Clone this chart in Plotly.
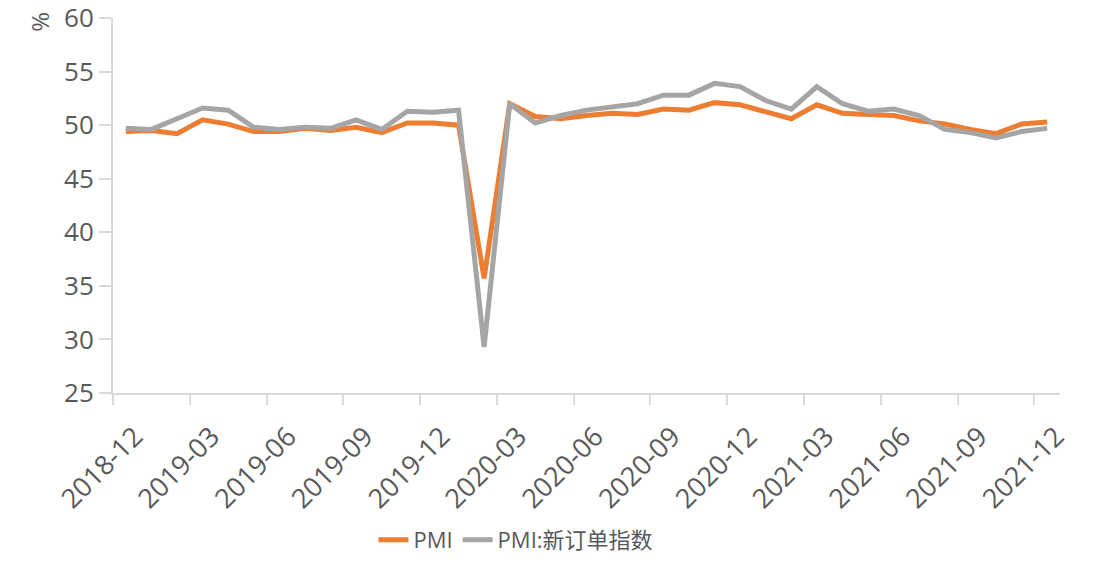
import plotly.graph_objects as go

months = ["2018-12",
          "2019-01", "2019-02", "2019-03", "2019-04", "2019-05", "2019-06",
          "2019-07", "2019-08", "2019-09", "2019-10", "2019-11", "2019-12",
          "2020-01", "2020-02", "2020-03", "2020-04", "2020-05", "2020-06",
          "2020-07", "2020-08", "2020-09", "2020-10", "2020-11", "2020-12",
          "2021-01", "2021-02", "2021-03", "2021-04", "2021-05", "2021-06",
          "2021-07", "2021-08", "2021-09", "2021-10", "2021-11", "2021-12"]

pmi = [49.4,
       49.5, 49.2, 50.5, 50.1, 49.4, 49.4, 49.7, 49.5, 49.8, 49.3, 50.2, 50.2,
       50.0, 35.7, 52.0, 50.8, 50.6, 50.9, 51.1, 51.0, 51.5, 51.4, 52.1, 51.9,
       51.3, 50.6, 51.9, 51.1, 51.0, 50.9, 50.4, 50.1, 49.6, 49.2, 50.1, 50.3]

new_orders = [49.7,
              49.6, 50.6, 51.6, 51.4, 49.8, 49.6, 49.8, 49.7, 50.5, 49.6, 51.3, 51.2,
              51.4, 29.3, 52.0, 50.2, 50.9, 51.4, 51.7, 52.0, 52.8, 52.8, 53.9, 53.6,
              52.3, 51.5, 53.6, 52.0, 51.3, 51.5, 50.9, 49.6, 49.3, 48.8, 49.4, 49.7]

series_names = ["PMI", "PMI:新订单指数"]
y_unit = "%"

idx = list(range(len(months)))
label_idx = idx[::3]
label_text = [months[i] for i in label_idx]
boundary_ticks = [i - 0.5 for i in label_idx]

font_family = "Open Sans, Noto Sans CJK SC, sans-serif"
axis_col = "#d9d9d9"
text_col = "#595959"

fig = go.Figure()
fig.add_trace(go.Scatter(x=idx, y=pmi, mode="lines", name=series_names[0],
                         line=dict(color="#ED7D31", width=5)))
fig.add_trace(go.Scatter(x=idx, y=new_orders, mode="lines", name=series_names[1],
                         line=dict(color="#A5A5A5", width=5)))

fig.update_layout(
    width=1097, height=579,
    margin=dict(l=113, r=37, t=18, b=186, autoexpand=False),
    paper_bgcolor="white", plot_bgcolor="white",
    font=dict(family=font_family, color=text_col, size=22),
    showlegend=True,
    legend=dict(orientation="h", x=0.4255, xanchor="center", y=-0.392, yanchor="middle",
                font=dict(size=22, color=text_col)),
    xaxis=dict(
        range=[-0.5, len(months) - 0.5], automargin=False,
        tickmode="array", tickvals=label_idx, ticktext=label_text,
        tickangle=-45, ticks="", showgrid=False, zeroline=False,
        showline=True, linecolor=axis_col, linewidth=2,
        ticklabeloverflow="allow", ticklabelstandoff=15, ticklabelshift=9,
        tickfont=dict(size=27, color=text_col),
        minor=dict(tickmode="array", tickvals=boundary_ticks, ticks="outside",
                   ticklen=10, tickcolor=axis_col, tickwidth=2, showgrid=False),
    ),
    yaxis=dict(
        range=[25, 60], tickmode="array", tickvals=[25, 30, 35, 40, 45, 50, 55, 60],
        automargin=False, ticklabeloverflow="allow",
        ticks="outside", ticklen=12, tickcolor=axis_col, tickwidth=2,
        showgrid=False, zeroline=False,
        showline=True, linecolor=axis_col, linewidth=2,
        tickfont=dict(size=26, color=text_col),
    ),
)

fig.add_annotation(text=y_unit, xref="paper", yref="paper", x=-0.077, y=0.99,
                   showarrow=False, textangle=-90, xanchor="center", yanchor="middle",
                   font=dict(size=24, color=text_col))

fig.write_html("out.html", config={"displayModeBar": False},
               post_script="document.body.style.margin='0';document.body.style.padding='0';")
